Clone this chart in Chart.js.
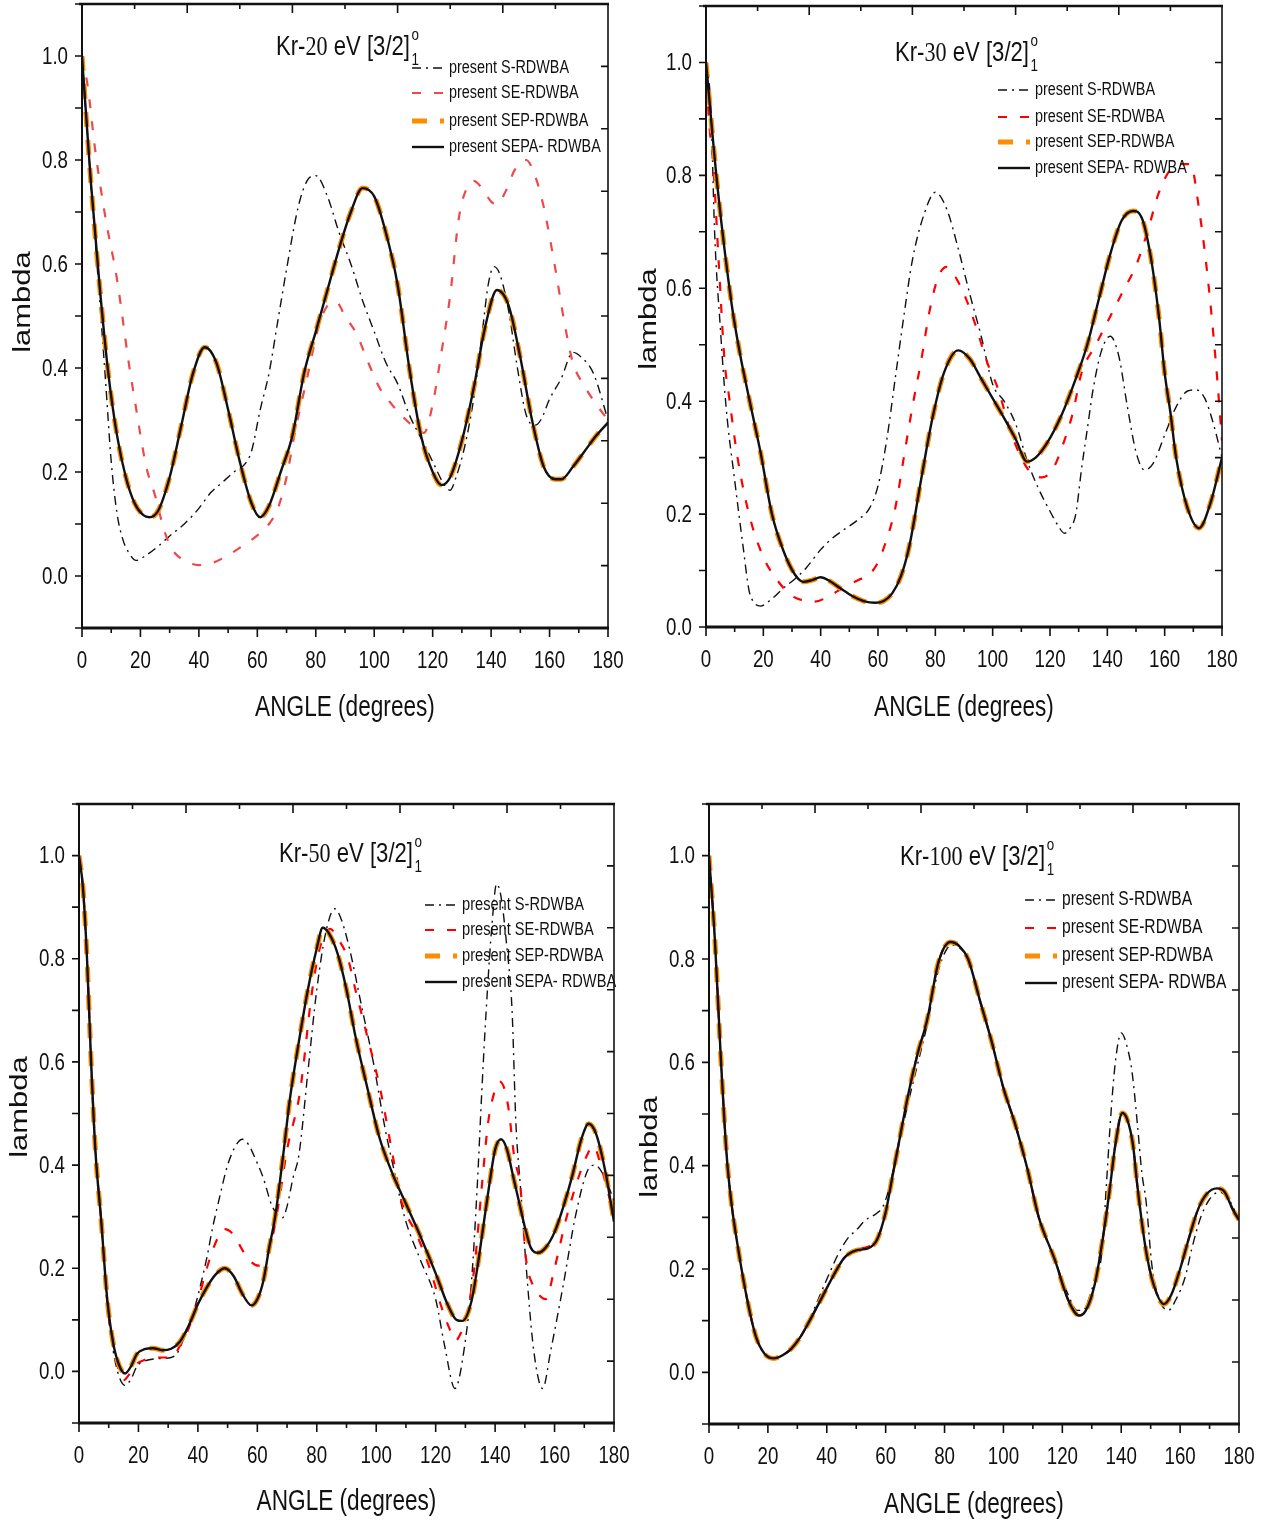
<!DOCTYPE html>
<html>
<head>
<meta charset="utf-8">
<title>Kr [3/2]o1 lambda parameter</title>
<script src="https://cdn.jsdelivr.net/npm/chart.js@4.4.1/dist/chart.umd.min.js"></script>
<style>
  body { margin: 0; background: #fff; }
  #wrap { position: relative; width: 1263px; height: 1524px; }
  canvas { position: absolute; }
</style>
</head>
<body>
<div id="wrap">
  <canvas id="kr20" width="630" height="740" style="left:0;top:0;width:630px;height:740px"></canvas>
  <canvas id="kr30" width="633" height="740" style="left:630px;top:0;width:633px;height:740px"></canvas>
  <canvas id="kr50" width="630" height="744" style="left:0;top:780px;width:630px;height:744px"></canvas>
  <canvas id="kr100" width="633" height="744" style="left:630px;top:780px;width:633px;height:744px"></canvas>
</div>
<script>
// lambda vs scattering angle, [angle, value] pairs
// SEP and SEPA lie on top of each other at this scale

// ---- Kr 20 eV
const kr20_S = [[0,1.0],[3,0.76],[5,0.61],[8,0.38],[10,0.22],[12,0.12],[14,0.07],[16,0.045],[18.5,0.03],[22,0.04],[26,0.057],[30,0.077],[35,0.1],[40,0.13],[44,0.16],[48,0.18],[52,0.2],[56,0.217],[58,0.24],[61,0.32],[64,0.39],[67,0.49],[70,0.59],[74,0.71],[77,0.76],[80,0.77],[84,0.73],[88,0.66],[92,0.6],[96,0.53],[100,0.47],[104,0.41],[108,0.37],[112,0.31],[116,0.265],[120,0.22],[124,0.175],[126,0.165],[128,0.19],[131,0.25],[134,0.34],[137,0.47],[139,0.56],[141,0.595],[143,0.58],[146,0.51],[149,0.4],[152,0.31],[155,0.29],[157,0.3],[160,0.34],[164,0.38],[168,0.43],[171,0.42],[175,0.39],[180,0.3]];
const kr20_SE = [[0,1.0],[2,0.94],[4.5,0.82],[8,0.69],[12,0.57],[16,0.41],[18,0.34],[22,0.21],[25,0.155],[28,0.09],[31,0.05],[35,0.03],[40,0.021],[45,0.026],[50,0.04],[55,0.058],[60,0.078],[64,0.1],[67,0.13],[70,0.19],[73,0.28],[77,0.38],[81,0.48],[84,0.52],[87,0.527],[90,0.5],[94,0.465],[98,0.41],[102,0.36],[106,0.33],[110,0.305],[114,0.285],[117,0.275],[120,0.33],[123,0.43],[126,0.54],[129,0.69],[132,0.75],[134,0.76],[137,0.745],[140,0.72],[142,0.715],[145,0.74],[148,0.78],[152,0.8],[155,0.77],[158,0.71],[162,0.59],[165,0.49],[168,0.41],[172,0.365],[176,0.33],[180,0.3]];
const kr20_SEPA = [[0,1.0],[3,0.76],[6,0.56],[9,0.39],[12,0.27],[15,0.19],[18,0.14],[21,0.117],[23,0.113],[26,0.125],[30,0.19],[34,0.29],[38,0.39],[42,0.44],[46,0.41],[50,0.32],[54,0.22],[58,0.14],[61,0.113],[64,0.135],[68,0.2],[72,0.27],[76,0.39],[80,0.47],[84,0.55],[88,0.63],[92,0.7],[96,0.746],[100,0.73],[104,0.66],[108,0.56],[112,0.4],[116,0.27],[120,0.2],[123,0.175],[126,0.19],[130,0.26],[134,0.36],[138,0.48],[142,0.55],[146,0.52],[150,0.42],[154,0.3],[158,0.21],[162,0.186],[164,0.186],[168,0.21],[172,0.24],[176,0.27],[180,0.295]];
const kr20_SEP = kr20_SEPA;

// ---- Kr 30 eV
const kr30_S = [[0,1.0],[1.7,0.92],[3,0.7],[5,0.53],[7,0.39],[10,0.26],[13,0.14],[15,0.065],[17,0.042],[19,0.037],[23,0.05],[27,0.069],[31,0.085],[35,0.105],[40,0.137],[44,0.157],[48,0.172],[53,0.19],[57,0.21],[60,0.25],[63,0.33],[66,0.44],[69,0.55],[72,0.65],[76,0.73],[80,0.77],[84,0.74],[88,0.67],[92,0.59],[96,0.515],[100,0.43],[104,0.4],[108,0.36],[112,0.295],[116,0.245],[120,0.205],[123,0.178],[125,0.166],[127,0.175],[129,0.2],[131,0.28],[133,0.35],[135,0.42],[138,0.49],[141,0.515],[144,0.48],[147,0.39],[150,0.31],[153,0.278],[156,0.29],[160,0.34],[164,0.39],[168,0.418],[171,0.42],[174,0.405],[177,0.36],[180,0.3]];
const kr30_SE = [[0,1.0],[1,0.9],[2.5,0.82],[4.5,0.64],[6.5,0.47],[8,0.41],[11,0.3],[15,0.2],[20,0.124],[25,0.082],[30,0.055],[34,0.047],[38,0.045],[43,0.055],[48,0.07],[53,0.083],[57,0.093],[60,0.115],[63,0.155],[66,0.21],[69,0.3],[72,0.39],[75,0.47],[78,0.56],[81,0.62],[84,0.638],[87,0.62],[90,0.59],[94,0.535],[98,0.47],[102,0.42],[106,0.35],[110,0.3],[113,0.275],[117,0.265],[121,0.28],[125,0.33],[128,0.38],[131,0.45],[136,0.5],[141,0.55],[146,0.6],[150,0.64],[154,0.7],[158,0.77],[162,0.81],[166,0.82],[169,0.82],[172,0.74],[175,0.62],[178,0.46],[180,0.33]];
const kr30_SEPA = [[0,1.0],[4,0.78],[9,0.57],[12,0.48],[14,0.43],[16.5,0.37],[19,0.31],[23,0.2],[27,0.135],[31,0.093],[34,0.08],[37,0.083],[40,0.088],[43,0.082],[47,0.068],[51,0.055],[55,0.046],[59,0.043],[62,0.046],[65,0.06],[68,0.09],[71,0.145],[75,0.26],[79,0.37],[83,0.45],[88,0.49],[92,0.475],[96,0.44],[100,0.405],[104,0.37],[108,0.333],[112,0.293],[115,0.3],[119,0.326],[124,0.375],[129,0.44],[133,0.5],[137,0.58],[141,0.66],[145,0.72],[149,0.737],[152,0.725],[155,0.66],[158,0.55],[160,0.45],[162,0.38],[164,0.3],[168,0.21],[172,0.175],[176,0.22],[180,0.3]];
const kr30_SEP = kr30_SEPA;

// ---- Kr 50 eV
const kr50_S = [[0,1.0],[1.3,0.94],[2.7,0.8],[4,0.61],[5.5,0.43],[7.5,0.29],[9.5,0.13],[11.5,0.04],[13.5,-0.01],[15.5,-0.027],[17.5,-0.015],[19.5,0.01],[22,0.02],[25,0.024],[28,0.025],[31,0.027],[33,0.035],[35,0.06],[37,0.09],[39,0.125],[41,0.17],[43,0.22],[45,0.28],[47,0.33],[50,0.4],[53,0.44],[55,0.45],[57,0.44],[59.5,0.41],[62,0.375],[65,0.32],[68.5,0.298],[70,0.32],[72,0.375],[74,0.42],[77,0.58],[80,0.74],[83,0.85],[86,0.897],[88,0.88],[91,0.82],[95,0.71],[99,0.6],[103,0.47],[106,0.39],[109.5,0.3],[115,0.214],[120,0.14],[123,0.05],[126.5,-0.033],[129.5,0.04],[132,0.17],[134,0.36],[135.5,0.54],[137,0.7],[139,0.87],[140.5,0.945],[142,0.92],[144,0.82],[145.7,0.7],[147,0.48],[148.5,0.36],[150.5,0.2],[153,0.04],[156,-0.033],[158.7,0.04],[163,0.17],[167,0.3],[171,0.388],[173.5,0.4],[177,0.375],[180,0.33]];
const kr50_SE = [[0,1.0],[1.3,0.94],[2.7,0.8],[4,0.61],[5.5,0.43],[7.5,0.29],[9.5,0.135],[11.5,0.05],[13.5,0.0],[15,-0.017],[17,-0.005],[19.5,0.015],[22,0.022],[25,0.027],[28,0.027],[31,0.027],[34,0.05],[37,0.085],[40,0.137],[43,0.2],[46,0.25],[49,0.276],[52,0.265],[55,0.235],[58,0.212],[60.5,0.205],[62.5,0.215],[64.5,0.245],[67,0.32],[70,0.43],[74.3,0.54],[78.4,0.736],[81,0.82],[84.5,0.858],[87,0.84],[90.5,0.8],[93,0.74],[96,0.672],[101.5,0.543],[105.5,0.42],[108.5,0.33],[113.5,0.267],[118,0.2],[122,0.124],[124.5,0.085],[126.7,0.06],[128.5,0.075],[130.2,0.104],[133,0.2],[135.6,0.363],[137.6,0.48],[139,0.525],[141.5,0.562],[143,0.55],[144.5,0.51],[146.5,0.413],[148.4,0.363],[150.5,0.214],[152.5,0.17],[154.5,0.15],[157,0.14],[160,0.2],[164,0.298],[168,0.375],[171,0.42],[173,0.437],[176,0.39],[180,0.3]];
const kr50_SEPA = [[0,1.0],[1.3,0.94],[2.7,0.8],[4,0.61],[5.5,0.43],[7.5,0.29],[9.5,0.14],[11.5,0.055],[13.5,0.012],[15.5,-0.004],[17.5,0.01],[19.5,0.034],[22,0.043],[25,0.045],[28,0.041],[31,0.044],[34,0.058],[37,0.09],[40,0.13],[43,0.163],[46,0.188],[49,0.2],[52,0.185],[55,0.15],[58,0.128],[60,0.14],[62,0.175],[64,0.24],[66,0.3],[68.5,0.41],[71,0.53],[74,0.64],[77,0.74],[80,0.82],[82,0.86],[84,0.85],[87,0.81],[90,0.74],[93,0.65],[97,0.55],[101,0.455],[105,0.39],[110,0.325],[115,0.26],[120,0.19],[124,0.13],[127,0.1],[129,0.098],[132,0.135],[134,0.2],[136,0.28],[138,0.36],[140,0.43],[142,0.45],[144,0.43],[146,0.38],[148,0.33],[150,0.28],[152,0.24],[154.5,0.23],[157,0.24],[160,0.27],[163,0.32],[166,0.38],[169,0.45],[171.5,0.48],[174,0.46],[177,0.39],[180,0.29]];
const kr50_SEP = kr50_SEPA;

// ---- Kr 100 eV
const kr100_S = [[0,1.0],[2,0.837],[4,0.61],[6,0.42],[7.5,0.333],[10,0.236],[13,0.14],[16,0.068],[19,0.035],[22,0.027],[25,0.033],[28,0.046],[31,0.068],[34,0.1],[37,0.14],[40,0.18],[44,0.23],[47.5,0.262],[50,0.275],[53,0.294],[57,0.308],[59,0.32],[61,0.353],[64,0.43],[68,0.53],[71,0.6],[74,0.67],[78,0.78],[82.5,0.827],[85,0.822],[88,0.8],[92,0.72],[96,0.64],[100,0.55],[104,0.48],[108,0.397],[112,0.3],[117.5,0.217],[122,0.15],[125,0.12],[127,0.12],[130,0.16],[133.5,0.236],[135,0.366],[136.5,0.5],[138,0.6],[140,0.657],[142,0.63],[143.7,0.58],[145.5,0.48],[147,0.386],[148.4,0.333],[150.5,0.203],[153,0.14],[156,0.12],[158.5,0.14],[161.7,0.184],[164,0.24],[167,0.3],[170,0.335],[173.3,0.349],[176,0.34],[180,0.295]];
const kr100_SE = [[0,1.0],[2,0.837],[4,0.61],[6,0.42],[7.5,0.333],[10,0.236],[13,0.14],[16,0.068],[19,0.035],[22,0.027],[25,0.033],[28,0.046],[31,0.068],[34,0.098],[37,0.13],[40,0.163],[43,0.195],[46,0.222],[50,0.238],[54,0.243],[57,0.256],[60,0.31],[62,0.37],[64,0.43],[68,0.547],[71,0.62],[74,0.68],[78,0.795],[82,0.835],[85,0.825],[88,0.8],[92,0.72],[96,0.64],[100,0.55],[104,0.48],[108,0.397],[112,0.3],[117.5,0.217],[122,0.14],[125.7,0.11],[128,0.12],[131,0.17],[133.5,0.25],[136,0.35],[138,0.44],[140.4,0.506],[142,0.49],[144,0.44],[145.5,0.36],[148.4,0.236],[151,0.17],[154.5,0.132],[157,0.15],[160,0.2],[163,0.26],[166,0.314],[169,0.345],[172.5,0.356],[175,0.35],[178,0.314],[180,0.295]];
const kr100_SEPA = [[0,1.0],[2,0.837],[4,0.61],[6,0.42],[7.5,0.333],[10,0.236],[13,0.14],[16,0.068],[19,0.035],[22,0.027],[25,0.033],[28,0.046],[31,0.068],[34,0.098],[37,0.13],[40,0.163],[43,0.195],[46,0.222],[50,0.236],[54,0.24],[57,0.256],[60,0.31],[62,0.37],[64,0.43],[68,0.547],[71,0.62],[74,0.68],[78,0.795],[82,0.833],[85,0.825],[88,0.8],[92,0.72],[96,0.64],[100,0.55],[104,0.48],[108,0.397],[112,0.3],[117.5,0.217],[122,0.14],[125.7,0.11],[128,0.12],[131,0.17],[133.5,0.25],[136,0.35],[138,0.44],[140.4,0.502],[142,0.49],[144,0.44],[145.5,0.36],[148.4,0.236],[151,0.17],[154.5,0.132],[157,0.15],[160,0.2],[163,0.26],[166,0.314],[169,0.345],[172.5,0.356],[175,0.35],[178,0.314],[180,0.295]];
const kr100_SEP = kr100_SEPA;

const legendLabels = ['present S-RDWBA', 'present SE-RDWBA', 'present SEP-RDWBA', 'present SEPA- RDWBA'];
const angleTicks = { min: 0, max: 180, step: 10, labelEvery: 20 };
const lambdaLabels = [0.0, 0.2, 0.4, 0.6, 0.8, 1.0];

const SANS = '"Liberation Sans", Arial, sans-serif';
const SERIF = '"Liberation Serif", "Times New Roman", serif';
const INK = '#111';

function pts(arr) {
  return arr.map(p => ({ x: p[0], y: p[1] }));
}

function sets(s, se, sep, sepa, seColor) {
  return [
    { label: legendLabels[0], data: pts(s), borderColor: INK, borderWidth: 1.4, borderDash: [9, 5, 2, 5], order: 3 },
    { label: legendLabels[1], data: pts(se), borderColor: seColor, borderWidth: 2.2, borderDash: [9, 13], order: 2 },
    { label: legendLabels[2], data: pts(sep), borderColor: 'rgb(255,140,0)', borderWidth: 5, borderDash: [15, 13], order: 1 },
    { label: legendLabels[3], data: pts(sepa), borderColor: INK, borderWidth: 2.4, order: 0 }
  ];
}

// text squeezed horizontally (the figure uses a condensed face)
function narrowText(ctx, text, x, y, size, align, sx, family) {
  ctx.save();
  ctx.translate(x, y);
  ctx.scale(sx, 1);
  ctx.font = size + 'px ' + (family || SANS);
  ctx.textAlign = align;
  ctx.textBaseline = 'middle';
  ctx.fillText(text, 0, 0);
  ctx.restore();
}

// frame, tick marks and labels, panel title, legend, axis titles
const framePlugin = {
  id: 'frame',
  afterDraw(chart, args, o) {
    const { ctx, chartArea: a, scales } = chart;
    const x = scales.x, y = scales.y;
    ctx.save();
    ctx.strokeStyle = INK;
    ctx.fillStyle = INK;

    // ticks on the bottom and left axes
    ctx.lineWidth = 1.6;
    ctx.beginPath();
    x.ticks.forEach(t => {
      const px = x.getPixelForValue(t.value);
      ctx.moveTo(px, a.bottom);
      ctx.lineTo(px, a.bottom + (Math.round(t.value) % angleTicks.labelEvery === 0 ? 9 : 5));
    });
    y.ticks.forEach(t => {
      const py = y.getPixelForValue(t.value);
      ctx.moveTo(a.left - 7, py);
      ctx.lineTo(a.left, py);
    });
    // inward ticks on top and right
    for (let i = 1; i < 10; i++) {
      const px = a.left + i * (a.right - a.left) / 10;
      ctx.moveTo(px, a.top);
      ctx.lineTo(px, a.top + (i % 2 === 0 ? 9 : 5));
    }
    for (let i = 1; i < o.rightDiv; i++) {
      const py = a.bottom - i * (a.bottom - a.top) / o.rightDiv;
      ctx.moveTo(a.right - 7, py);
      ctx.lineTo(a.right, py);
    }
    ctx.stroke();

    // box
    const line = (w, x1, y1, x2, y2) => {
      ctx.lineWidth = w;
      ctx.beginPath();
      ctx.moveTo(x1, y1);
      ctx.lineTo(x2, y2);
      ctx.stroke();
    };
    line(2.6, a.left - 3, a.top, a.right + 1, a.top);
    line(1.6, a.right, a.top, a.right, a.bottom);
    line(2, a.left, a.top, a.left, a.bottom);
    line(3, a.left - 1, a.bottom, a.right + 1, a.bottom);

    // tick labels
    x.ticks.forEach(t => {
      const v = Math.round(t.value);
      if (v % angleTicks.labelEvery !== 0) return;
      narrowText(ctx, String(v), x.getPixelForValue(v), a.bottom + 33, 24, 'center', 0.78);
    });
    lambdaLabels.forEach(v => {
      narrowText(ctx, v.toFixed(1), a.left - 14, y.getPixelForValue(v) + 1, 24, 'right', 0.78);
    });

    // axis titles
    narrowText(ctx, 'ANGLE (degrees)', (a.left + a.right) / 2, o.xTitleY, 29, 'center', 0.78);
    ctx.save();
    ctx.translate(o.lamX, o.lamY);
    ctx.scale(0.8, 1);
    ctx.rotate(-Math.PI / 2);
    ctx.font = '31px ' + SANS;
    ctx.textAlign = 'center';
    ctx.textBaseline = 'middle';
    ctx.fillText('lambda', 0, 0);
    ctx.restore();

    // panel title: Kr-E eV [3/2]o1
    ctx.save();
    ctx.translate(o.titleX, o.titleBase);
    ctx.scale(0.79, 1);
    ctx.textAlign = 'left';
    ctx.textBaseline = 'alphabetic';
    let tx = 0;
    [['Kr-', SANS], [o.energy, SERIF], [' eV [3/2]', SANS]].forEach(([t, f]) => {
      ctx.font = '28px ' + f;
      ctx.fillText(t, tx, 0);
      tx += ctx.measureText(t).width;
    });
    ctx.font = '17px ' + SANS;
    ctx.fillText('o', tx + 2, -15);
    ctx.fillText('1', tx + 2, 10);
    ctx.restore();

    // legend
    chart.data.datasets.forEach((ds, i) => {
      const ly = o.legRows[i];
      ctx.save();
      ctx.strokeStyle = ds.borderColor;
      ctx.lineWidth = ds.borderWidth;
      ctx.setLineDash(ds.borderDash || []);
      ctx.beginPath();
      ctx.moveTo(o.legX, ly);
      ctx.lineTo(o.legX + 32, ly);
      ctx.stroke();
      ctx.restore();
      narrowText(ctx, ds.label, o.legX + 37, ly, o.legSize, 'left', 0.8);
    });

    ctx.restore();
  }
};

function makeChart(id, datasets, yMin, box, frame) {
  return new Chart(document.getElementById(id), {
    type: 'line',
    data: { datasets: datasets },
    options: {
      responsive: false,
      animation: false,
      devicePixelRatio: 1,
      layout: { padding: { left: 0, top: box.top, right: box.right, bottom: 0 } },
      elements: {
        point: { radius: 0 },
        line: { cubicInterpolationMode: 'monotone', fill: false }
      },
      plugins: {
        legend: { display: false },
        tooltip: { enabled: false },
        frame: frame
      },
      scales: {
        x: {
          type: 'linear',
          min: angleTicks.min,
          max: angleTicks.max,
          grid: { display: false, drawTicks: false },
          border: { display: false },
          ticks: { display: false, stepSize: angleTicks.step },
          afterFit: s => { s.height = box.xh; }
        },
        y: {
          type: 'linear',
          min: yMin,
          max: 1.1,
          grid: { display: false, drawTicks: false },
          border: { display: false },
          ticks: { display: false, stepSize: 0.1 },
          afterFit: s => { s.width = box.yw; }
        }
      }
    },
    plugins: [framePlugin]
  });
}

makeChart('kr20', sets(kr20_S, kr20_SE, kr20_SEP, kr20_SEPA, 'rgb(240,72,72)'), -0.1,
  { top: 4, right: 22, yw: 82, xh: 112 },
  { rightDiv: 10, energy: '20', titleX: 276, titleBase: 55, legX: 412, legRows: [68, 93, 121, 147], legSize: 18, lamX: 23, lamY: 302, xTitleY: 708 });

makeChart('kr30', sets(kr30_S, kr30_SE, kr30_SEP, kr30_SEPA, 'rgb(255,0,0)'), 0,
  { top: 6, right: 41, yw: 76, xh: 113 },
  { rightDiv: 11, energy: '30', titleX: 265, titleBase: 61, legX: 368, legRows: [90, 117, 142, 168], legSize: 18, lamX: 19, lamY: 319, xTitleY: 708 });

makeChart('kr50', sets(kr50_S, kr50_SE, kr50_SEP, kr50_SEPA, 'rgb(255,0,0)'), -0.1,
  { top: 24, right: 16, yw: 79, xh: 101 },
  { rightDiv: 10, energy: '50', titleX: 279, titleBase: 82, legX: 425, legRows: [125, 150, 176, 202], legSize: 18.3, lamX: 20, lamY: 327, xTitleY: 722 });

makeChart('kr100', sets(kr100_S, kr100_SE, kr100_SEP, kr100_SEPA, 'rgb(255,0,0)'), -0.1,
  { top: 24, right: 24, yw: 79, xh: 100 },
  { rightDiv: 10, energy: '100', titleX: 270, titleBase: 85, legX: 395, legRows: [120, 148, 176, 203], legSize: 19.5, lamX: 20, lamY: 367, xTitleY: 725 });
</script>
</body>
</html>
